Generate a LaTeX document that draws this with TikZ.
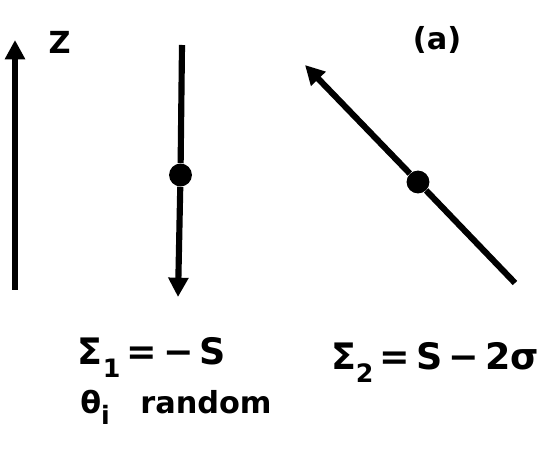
\documentclass[tikz,border=0pt]{standalone}
\usepackage{fontspec}
\setsansfont{DejaVu Sans}
\usepackage{tikz}
\usetikzlibrary{arrows.meta,positioning}

\newcommand{\lowsub}[1]{\raisebox{-0.35em}{\Large #1}}

\begin{document}
\begin{tikzpicture}[
  spin/.style={line width=3.5pt, -{Triangle[length=11pt, width=11pt]}},
  stem/.style={line width=3.5pt},
  atom/.style={circle, fill=black, inner sep=0pt, minimum size=13pt},
  lbl/.style={font=\huge\sffamily\bfseries}]
  \useasboundingbox (0,0) rectangle (11,-9.36);
  % reference axis
  \coordinate (zlow) at (0.3,-5.8);
  \coordinate (zhigh) at (0.3,-0.8);
  \node[lbl, anchor=north west, font=\LARGE\sffamily\bfseries] (zlbl) at (0.85,-0.5) {Z};
  \draw[spin] (zlow) -- (zhigh);
  % first site, spin down
  \coordinate (top1) at (3.64,-0.9);
  \node[atom] (site1) at (3.61,-3.5) {};
  \coordinate (tip1) at (3.56,-5.94);
  \draw[stem] (top1) -- (site1);
  \draw[spin] (site1) -- (tip1);
  % second site, tilted spin
  \node[lbl, font=\LARGE\sffamily\bfseries] (case) at (8.74,-0.8) {(a)};
  \coordinate (tip2) at (6.1,-1.3);
  \node[atom] (site2) at (8.36,-3.64) {};
  \coordinate (low2) at (10.3,-5.66);
  \draw[stem] (low2) -- (site2);
  \draw[spin] (site2) -- (tip2);
  % sums
  \node[lbl] (sum1) at (3.04,-7.15) {Σ\lowsub{1}\,=\,−\,S};
  \node[lbl] (sum2) at (8.7,-7.25) {Σ\lowsub{2}\,=\,S\,−\,2σ};
  \node[lbl, font=\LARGE\sffamily\bfseries] (theta) at (3.52,-8.15) {θ\lowsub{i}\quad random};
\end{tikzpicture}
\end{document}
